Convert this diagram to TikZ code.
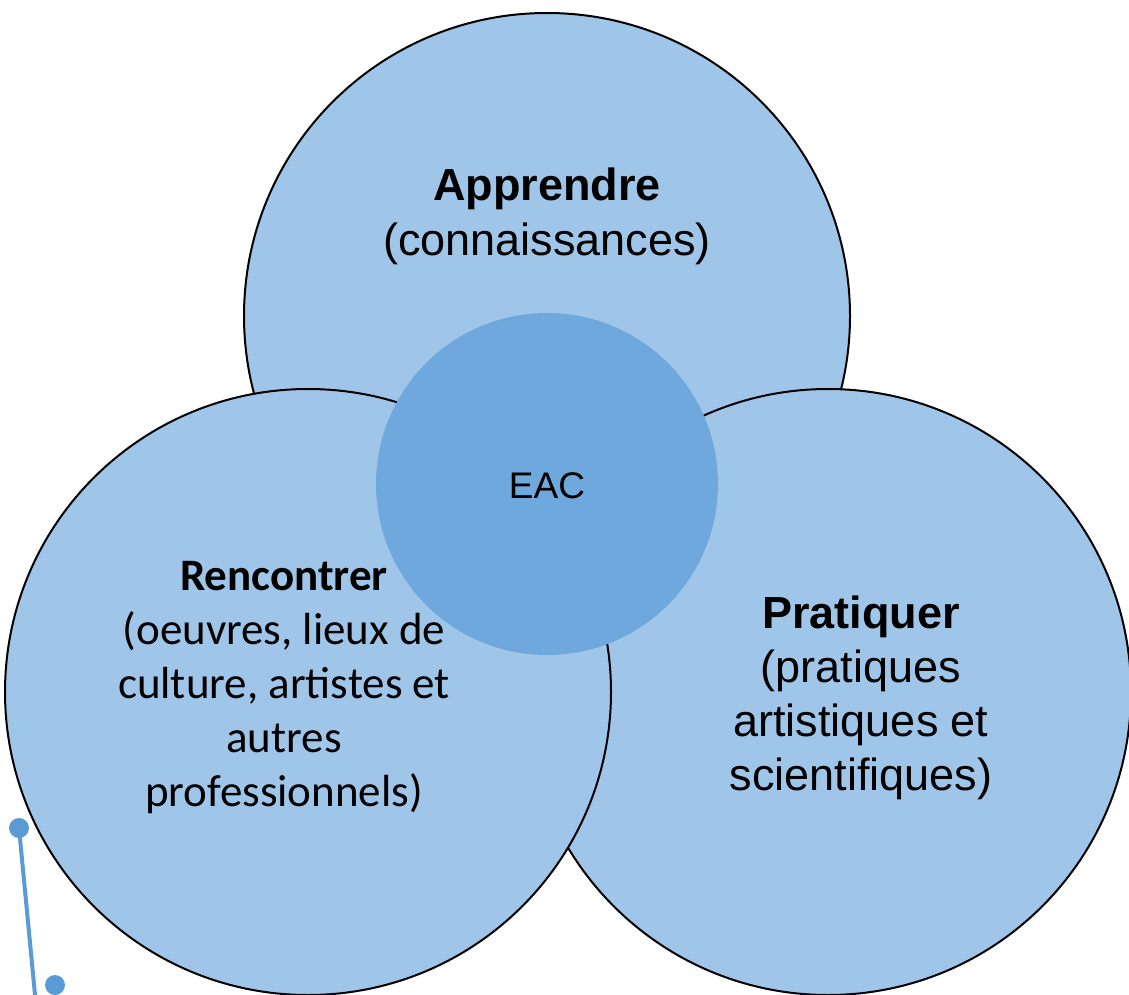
\documentclass[tikz,border=0pt]{standalone}
\usepackage{fontspec}
\setmainfont{Liberation Sans}
\newfontfamily\carlito{Carlito}
\definecolor{lightblue}{HTML}{9FC5E8}
\definecolor{midblue}{HTML}{6FA8DC}
\definecolor{dotblue}{HTML}{5B9BD5}
\tikzset{
  bigcircle/.style={circle, draw=black, line width=2pt, fill=lightblue, inner sep=0pt, minimum size=606pt},
  corecircle/.style={circle, fill=midblue, inner sep=0pt, minimum size=342pt},
  label/.style={align=center, inner sep=0pt, font=\fontsize{45}{55}\selectfont},
  dotstyle/.style={circle, fill=dotblue, inner sep=0pt, minimum size=20pt},
}
\begin{document}
\begin{tikzpicture}[x=1pt, y=-1pt]
\useasboundingbox (0,0) rectangle (1129,995);
\node[bigcircle] (top) at (547,316) {};
\node[bigcircle] (right) at (828,692) {};
\node[bigcircle] (left) at (308,692) {};
\node[corecircle] (core) at (547,484) {};
\node[inner sep=0pt, font=\fontsize{37}{44}\selectfont] (eac) at (547,486) {EAC};
\node[label] (apprendre) at (547,216) {\textbf{Apprendre}\\(connaissances)};
\node[label, font=\carlito\fontsize{45}{54}\selectfont] (rencontrer) at (284,688) {\textbf{Rencontrer}\\(oeuvres, lieux de\\culture, artistes et\\autres\\professionnels)};
\node[label, font=\fontsize{45}{54}\selectfont] (pratiquer) at (861,698) {\textbf{Pratiquer}\\(pratiques\\artistiques et\\scientifiques)};
\node[dotstyle] (dotA) at (19,828) {};
\node[dotstyle] (dotB) at (55,985) {};
\coordinate (lineEnd) at (35.5,1000);
\draw[dotblue, line width=4pt] (dotA.center) -- (lineEnd);
\end{tikzpicture}
\end{document}
